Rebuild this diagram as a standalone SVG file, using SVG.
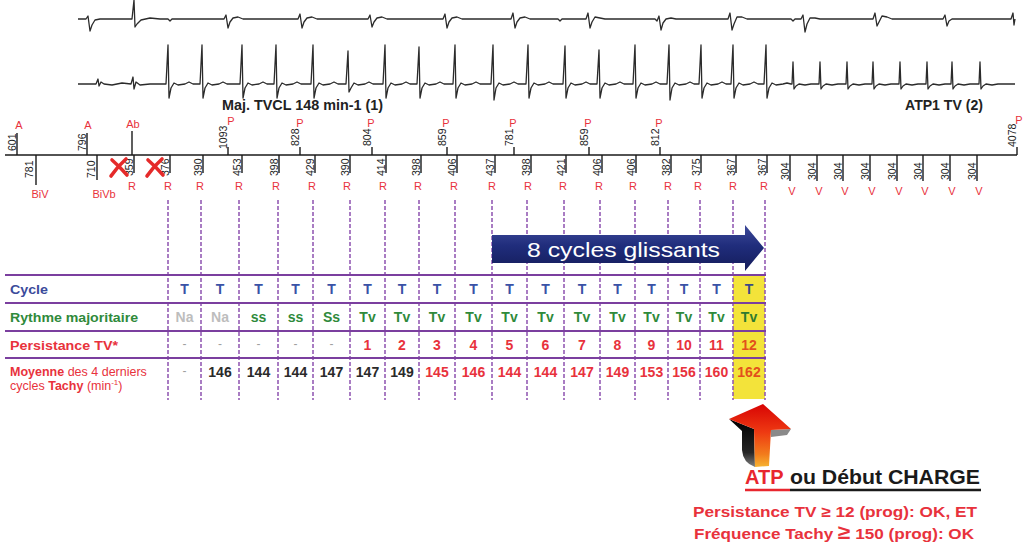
<svg xmlns="http://www.w3.org/2000/svg" width="1024" height="548" viewBox="0 0 1024 548">
<defs>
<style>
text{font-family:'Liberation Sans',Arial,sans-serif}
.ecg{fill:none;stroke:#2b2b2b;stroke-width:1.3;stroke-linejoin:round}
.tk{stroke:#1a1a1a;stroke-width:1.4}
.num{font-size:10.5px;fill:#222}
.mk{font-size:11px;fill:#e8323c;text-anchor:middle}
.hl{stroke:#7b3f9f;stroke-width:2}
.dl{stroke:#8d52b0;stroke-width:1.5;stroke-dasharray:4 2}
.c{font-size:14px;font-weight:bold;text-anchor:middle}
.t{fill:#3a52a6}.g{fill:#2f8a3b}.r{fill:#e8323c}.k{fill:#2a2a2a}.na{fill:#bdbdbd}.ds{fill:#a0a0a0;font-weight:normal;font-size:12px}.o{fill:#e2501c}
.lab{font-size:13.5px;font-weight:bold}
.xm{fill:none;stroke:#e52a2a;stroke-width:3.6;stroke-linecap:round}
</style>
<linearGradient id="gNavy" x1="0" y1="0" x2="0" y2="1">
<stop offset="0" stop-color="#3e4a9a"/><stop offset="0.45" stop-color="#202d7c"/><stop offset="1" stop-color="#141c5a"/>
</linearGradient>
<linearGradient id="gFire" x1="0" y1="0" x2="0" y2="1">
<stop offset="0" stop-color="#d80404"/><stop offset="0.45" stop-color="#ee3a12"/><stop offset="0.8" stop-color="#f27c1c"/><stop offset="1" stop-color="#f6b432"/>
</linearGradient>
<linearGradient id="gDark" x1="0" y1="0" x2="0" y2="1">
<stop offset="0" stop-color="#000"/><stop offset="0.7" stop-color="#262626"/><stop offset="1" stop-color="#808080"/>
</linearGradient>
</defs>
<rect width="1024" height="548" fill="#fff"/>

<g id="ecg">
<path class="ecg" d="M78,19 L86,19 L88,16 L90,31 L92,25 L95,20 L100,19 L132,19 L134,0 L135,27 L137,24 L141,20 L150,18 L160,19 L168,19 L170,21 L172,19 L224,19 L226,15 L228,28 L230,22 L233,18 L238,17 L243,19 L298,19 L300,14 L302,28 L304,22 L307,18 L312,17 L317,19 L368,19 L370,15 L372,27 L374,22 L377,18 L382,17 L387,19 L443,19 L445,14 L447,28 L449,22 L452,18 L457,17 L462,19 L511,19 L513,13 L515,28 L517,22 L520,18 L525,17 L530,19 L558,19 L560,21 L562,19 L586,19 L588,13 L590,28 L592,22 L595,17 L600,18 L605,19 L655,19 L657,21 L659,16 L661,30 L663,23 L666,19 L671,18 L676,19 L728,19 L730,13 L732,30 L734,24 L737,17 L742,17 L747,19 L791,19 L793,21 L795,19 L801,19 L803,15 L805,32 L807,24 L810,18 L815,18 L820,19 L873,19 L875,13 L877,26 L879,22 L882,16 L887,17 L892,19 L943,19 L945,15 L947,26 L949,21 L952,19 L957,19 L1011,19 L1013,13 L1014,25 L1015,19"/>
<path class="ecg" d="M78,84 L96,84 L98,79 L99,86 L101,82 L104,84 L112,85 L122,83 L131,84 L133,77 L134,89 L136,82 L140,85 L150,84
L166,84 L168,45 L169,98 L171,88 L174,83 L178,85 L185,84 L189,82 L193,84 L197,84
L200,84 L202,45 L203,98 L205,88 L208,83 L212,85 L219,84 L223,82 L227,84 L231,84
L240,84 L242,45 L243,98 L245,88 L248,83 L252,85 L259,84 L263,82 L267,84 L271,84
L274,84 L276,45 L277,98 L279,88 L282,83 L286,85 L293,84 L297,82 L301,84 L305,84
L311,84 L313,45 L314,98 L316,88 L319,83 L323,85 L330,84 L334,82 L338,84 L342,84
L346,84 L348,51 L349,92 L351,88 L354,83 L358,85 L365,84 L369,82 L373,84 L377,84
L383,84 L385,45 L386,98 L388,88 L391,83 L395,85 L402,84 L406,82 L410,84 L414,84
L417,84 L419,47 L420,98 L422,88 L425,83 L429,85 L436,84 L440,82 L444,84 L448,84
L453,84 L455,45 L456,98 L458,88 L461,83 L465,85 L472,84 L476,82 L480,84 L484,84
L491,84 L493,45 L494,100 L496,88 L499,83 L503,85 L510,84 L514,82 L518,84 L522,84
L526,84 L528,45 L529,98 L531,88 L534,83 L538,85 L545,84 L549,82 L553,84 L557,84
L563,84 L565,46 L566,98 L568,88 L571,83 L575,85 L582,84 L586,82 L590,84 L594,84
L597,84 L599,50 L600,98 L602,88 L605,83 L609,85 L616,84 L620,82 L624,84 L628,84
L633,84 L635,45 L636,98 L638,88 L641,83 L645,85 L652,84 L656,82 L660,84 L664,84
L667,84 L669,45 L670,100 L672,88 L675,83 L679,85 L686,84 L690,82 L694,84 L698,84
L699,84 L701,45 L702,98 L704,88 L707,83 L711,85 L718,84 L722,82 L726,84 L730,84
L731,84 L733,45 L734,98 L736,88 L739,83 L743,85 L750,84 L754,82 L758,84 L762,84
L764,84 L766,45 L767,98 L769,88 L772,83 L776,85 L783,84 L787,83 L791,84
L792,84 L793,62 L794,89 L796,86 L799,84 L805,85 L811,84 L817,84
L819,84 L820,62 L821,89 L823,86 L826,84 L832,85 L838,84 L844,84
L846,84 L847,62 L848,89 L850,86 L853,84 L859,85 L865,84 L871,84
L872,84 L873,62 L874,89 L876,86 L879,84 L885,85 L891,84 L897,84
L899,84 L900,62 L901,89 L903,86 L906,84 L912,85 L918,84 L924,84
L926,84 L927,62 L928,89 L930,86 L933,84 L939,85 L945,84 L950,84
L951,84 L952,62 L953,89 L955,86 L958,84 L964,85 L970,84 L977,84
L979,84 L980,62 L981,89 L983,86 L986,84 L992,85 L998,84 L1004,84 L1015,84"/>
<text x="222" y="110" font-size="14" font-weight="bold" fill="#222" textLength="161" lengthAdjust="spacingAndGlyphs">Maj. TVCL 148 min-1 (1)</text>
<text x="905" y="110" font-size="14" font-weight="bold" fill="#222" textLength="78" lengthAdjust="spacingAndGlyphs">ATP1 TV (2)</text>
</g>

<g id="marker-channel">
<line class="tk" x1="5" y1="155" x2="1017" y2="155" stroke-width="1.6"/>
<line class="tk" x1="17" y1="133" x2="17" y2="155"/><text class="num" transform="translate(15.5,151) rotate(-90)">601</text><text class="mk" x="19" y="129">A</text>
<line class="tk" x1="87" y1="133" x2="87" y2="155"/><text class="num" transform="translate(85.5,151) rotate(-90)">796</text><text class="mk" x="88" y="129">A</text>
<line class="tk" x1="132" y1="131" x2="132" y2="155"/><text class="mk" x="133" y="128">Ab</text>
<line class="tk" x1="228" y1="147" x2="228" y2="155"/><text class="num" transform="translate(226.5,149) rotate(-90)">1093</text><text class="mk" x="231" y="125">P</text>
<line class="tk" x1="300" y1="147" x2="300" y2="155"/><text class="num" transform="translate(298.5,146) rotate(-90)">828</text><text class="mk" x="300" y="127">P</text>
<line class="tk" x1="372" y1="147" x2="372" y2="155"/><text class="num" transform="translate(370.5,146) rotate(-90)">804</text><text class="mk" x="371" y="127">P</text>
<line class="tk" x1="447" y1="147" x2="447" y2="155"/><text class="num" transform="translate(445.5,146) rotate(-90)">859</text><text class="mk" x="446" y="127">P</text>
<line class="tk" x1="514" y1="147" x2="514" y2="155"/><text class="num" transform="translate(512.5,146) rotate(-90)">781</text><text class="mk" x="513" y="127">P</text>
<line class="tk" x1="589" y1="147" x2="589" y2="155"/><text class="num" transform="translate(587.5,146) rotate(-90)">859</text><text class="mk" x="588" y="127">P</text>
<line class="tk" x1="660" y1="147" x2="660" y2="155"/><text class="num" transform="translate(658.5,146) rotate(-90)">812</text><text class="mk" x="659" y="127">P</text>
<line class="tk" x1="1017" y1="147" x2="1017" y2="155"/><text class="num" transform="translate(1015.5,147) rotate(-90)">4078</text><text class="mk" x="1019" y="124">P</text>
<line class="tk" x1="36" y1="155" x2="36" y2="185" stroke-width="2.6"/><text class="num" transform="translate(33,178) rotate(-90)">781</text><text class="mk" x="40" y="198">BiV</text>
<line class="tk" x1="97" y1="155" x2="97" y2="180"/><text class="num" transform="translate(94.5,178) rotate(-90)">710</text><text class="mk" x="104" y="198">BiVb</text>
<g id="r-markers">
<line class="tk" x1="134" y1="155" x2="134" y2="173"/><text class="num" transform="translate(133,176) rotate(-90)">359</text><text class="mk" x="132" y="190">R</text>
<line class="tk" x1="170" y1="155" x2="170" y2="173"/><text class="num" transform="translate(169,176) rotate(-90)">376</text><text class="mk" x="168" y="190">R</text>
<line class="tk" x1="203" y1="155" x2="203" y2="173"/><text class="num" transform="translate(202,176) rotate(-90)">390</text><text class="mk" x="200" y="190">R</text>
<line class="tk" x1="242" y1="155" x2="242" y2="173"/><text class="num" transform="translate(241,176) rotate(-90)">453</text><text class="mk" x="239" y="190">R</text>
<line class="tk" x1="279" y1="155" x2="279" y2="173"/><text class="num" transform="translate(278,176) rotate(-90)">398</text><text class="mk" x="276" y="190">R</text>
<line class="tk" x1="315" y1="155" x2="315" y2="173"/><text class="num" transform="translate(314,176) rotate(-90)">429</text><text class="mk" x="312" y="190">R</text>
<line class="tk" x1="350" y1="155" x2="350" y2="173"/><text class="num" transform="translate(349,176) rotate(-90)">390</text><text class="mk" x="347" y="190">R</text>
<line class="tk" x1="386" y1="155" x2="386" y2="173"/><text class="num" transform="translate(385,176) rotate(-90)">414</text><text class="mk" x="383" y="190">R</text>
<line class="tk" x1="421" y1="155" x2="421" y2="173"/><text class="num" transform="translate(420,176) rotate(-90)">398</text><text class="mk" x="418" y="190">R</text>
<line class="tk" x1="457" y1="155" x2="457" y2="173"/><text class="num" transform="translate(456,176) rotate(-90)">406</text><text class="mk" x="454" y="190">R</text>
<line class="tk" x1="495" y1="155" x2="495" y2="173"/><text class="num" transform="translate(494,176) rotate(-90)">437</text><text class="mk" x="492" y="190">R</text>
<line class="tk" x1="531" y1="155" x2="531" y2="173"/><text class="num" transform="translate(530,176) rotate(-90)">398</text><text class="mk" x="528" y="190">R</text>
<line class="tk" x1="566" y1="155" x2="566" y2="173"/><text class="num" transform="translate(565,176) rotate(-90)">421</text><text class="mk" x="563" y="190">R</text>
<line class="tk" x1="602" y1="155" x2="602" y2="173"/><text class="num" transform="translate(601,176) rotate(-90)">406</text><text class="mk" x="599" y="190">R</text>
<line class="tk" x1="636" y1="155" x2="636" y2="173"/><text class="num" transform="translate(635,176) rotate(-90)">406</text><text class="mk" x="633" y="190">R</text>
<line class="tk" x1="671" y1="155" x2="671" y2="173"/><text class="num" transform="translate(670,176) rotate(-90)">382</text><text class="mk" x="668" y="190">R</text>
<line class="tk" x1="701" y1="155" x2="701" y2="173"/><text class="num" transform="translate(700,176) rotate(-90)">375</text><text class="mk" x="698" y="190">R</text>
<line class="tk" x1="736" y1="155" x2="736" y2="173"/><text class="num" transform="translate(735,176) rotate(-90)">367</text><text class="mk" x="733" y="190">R</text>
<line class="tk" x1="767" y1="155" x2="767" y2="173"/><text class="num" transform="translate(766,176) rotate(-90)">367</text><text class="mk" x="764" y="190">R</text>
</g>
<g id="v-markers">
<line class="tk" x1="790" y1="155" x2="790" y2="181"/><text class="num" transform="translate(789,180) rotate(-90)">304</text><text class="mk" x="792" y="195">V</text>
<line class="tk" x1="817" y1="155" x2="817" y2="181"/><text class="num" transform="translate(816,180) rotate(-90)">304</text><text class="mk" x="819" y="195">V</text>
<line class="tk" x1="843" y1="155" x2="843" y2="181"/><text class="num" transform="translate(842,180) rotate(-90)">304</text><text class="mk" x="845" y="195">V</text>
<line class="tk" x1="870" y1="155" x2="870" y2="181"/><text class="num" transform="translate(869,180) rotate(-90)">304</text><text class="mk" x="872" y="195">V</text>
<line class="tk" x1="897" y1="155" x2="897" y2="181"/><text class="num" transform="translate(896,180) rotate(-90)">304</text><text class="mk" x="899" y="195">V</text>
<line class="tk" x1="923" y1="155" x2="923" y2="181"/><text class="num" transform="translate(922,180) rotate(-90)">304</text><text class="mk" x="925" y="195">V</text>
<line class="tk" x1="950" y1="155" x2="950" y2="181"/><text class="num" transform="translate(949,180) rotate(-90)">304</text><text class="mk" x="952" y="195">V</text>
<line class="tk" x1="977" y1="155" x2="977" y2="181"/><text class="num" transform="translate(976,180) rotate(-90)">304</text><text class="mk" x="979" y="195">V</text>
</g>
<g id="crosses">
<path class="xm" d="M112,160 Q119,166 127,175 M126,159 Q117,167 111,176"/>
<path class="xm" d="M148,160 Q155,166 163,175 M162,159 Q153,167 147,176"/>
</g>
</g>

<g id="table">
<rect x="733" y="275" width="32" height="124" fill="#f3e33a"/>
<g id="dashed-lines">
<line class="dl" x1="168" y1="200" x2="168" y2="400"/>
<line class="dl" x1="201" y1="200" x2="201" y2="400"/>
<line class="dl" x1="239" y1="200" x2="239" y2="400"/>
<line class="dl" x1="278" y1="200" x2="278" y2="400"/>
<line class="dl" x1="313" y1="200" x2="313" y2="400"/>
<line class="dl" x1="350" y1="200" x2="350" y2="400"/>
<line class="dl" x1="385" y1="200" x2="385" y2="400"/>
<line class="dl" x1="419" y1="200" x2="419" y2="400"/>
<line class="dl" x1="455" y1="200" x2="455" y2="400"/>
<line class="dl" x1="492" y1="200" x2="492" y2="400"/>
<line class="dl" x1="527" y1="200" x2="527" y2="400"/>
<line class="dl" x1="564" y1="200" x2="564" y2="400"/>
<line class="dl" x1="600" y1="200" x2="600" y2="400"/>
<line class="dl" x1="635" y1="200" x2="635" y2="400"/>
<line class="dl" x1="668" y1="200" x2="668" y2="400"/>
<line class="dl" x1="700" y1="200" x2="700" y2="400"/>
<line class="dl" x1="733" y1="200" x2="733" y2="400"/>
<line class="dl" x1="765" y1="200" x2="765" y2="400"/>
</g>
<line class="hl" x1="5" y1="275" x2="766" y2="275"/>
<line class="hl" x1="5" y1="303" x2="766" y2="303"/>
<line class="hl" x1="5" y1="331" x2="766" y2="331"/>
<line class="hl" x1="5" y1="358" x2="766" y2="358"/>

<g id="row-labels">
<text class="lab" x="10" y="294" fill="#3b4b9b" textLength="38" lengthAdjust="spacingAndGlyphs">Cycle</text>
<text class="lab" x="10" y="322" fill="#2f8a3b" textLength="128" lengthAdjust="spacingAndGlyphs">Rythme majoritaire</text>
<text class="lab" x="10" y="350" fill="#e8323c" textLength="108" lengthAdjust="spacingAndGlyphs">Persistance TV*</text>
<text x="10" y="376" font-size="12.5" fill="#e8323c"><tspan font-weight="bold">Moyenne</tspan> des 4 derniers</text>
<text x="10" y="390" font-size="12.5" fill="#e8323c">cycles <tspan font-weight="bold">Tachy</tspan> (min<tspan font-size="8" dy="-5">-1</tspan><tspan dy="5">)</tspan></text>
</g>

<g id="row-cycle">
<text class="c t" x="184.5" y="294">T</text><text class="c t" x="220" y="294">T</text><text class="c t" x="258.5" y="294">T</text><text class="c t" x="295.5" y="294">T</text><text class="c t" x="331.5" y="294">T</text><text class="c t" x="367.5" y="294">T</text><text class="c t" x="402" y="294">T</text><text class="c t" x="437" y="294">T</text><text class="c t" x="473.5" y="294">T</text><text class="c t" x="509.5" y="294">T</text><text class="c t" x="545.5" y="294">T</text><text class="c t" x="582" y="294">T</text><text class="c t" x="617.5" y="294">T</text><text class="c t" x="651.5" y="294">T</text><text class="c t" x="684" y="294">T</text><text class="c t" x="716.5" y="294">T</text><text class="c" x="749" y="294" fill="#3b4a86">T</text>
</g>
<g id="row-rythme">
<text class="c na" x="184.5" y="322">Na</text><text class="c na" x="220" y="322">Na</text><text class="c g" x="258.5" y="322">ss</text><text class="c g" x="295.5" y="322">ss</text><text class="c g" x="331.5" y="322">Ss</text><text class="c g" x="367.5" y="322">Tv</text><text class="c g" x="402" y="322">Tv</text><text class="c g" x="437" y="322">Tv</text><text class="c g" x="473.5" y="322">Tv</text><text class="c g" x="509.5" y="322">Tv</text><text class="c g" x="545.5" y="322">Tv</text><text class="c g" x="582" y="322">Tv</text><text class="c g" x="617.5" y="322">Tv</text><text class="c g" x="651.5" y="322">Tv</text><text class="c g" x="684" y="322">Tv</text><text class="c g" x="716.5" y="322">Tv</text><text class="c" x="749" y="322" fill="#2e7a30">Tv</text>
</g>
<g id="row-persistance">
<text class="c ds" x="184.5" y="348">-</text><text class="c ds" x="220" y="348">-</text><text class="c ds" x="258.5" y="348">-</text><text class="c ds" x="295.5" y="348">-</text><text class="c ds" x="331.5" y="348">-</text>
<text class="c r" x="367.5" y="350">1</text><text class="c r" x="402" y="350">2</text><text class="c r" x="437" y="350">3</text><text class="c r" x="473.5" y="350">4</text><text class="c r" x="509.5" y="350">5</text><text class="c r" x="545.5" y="350">6</text><text class="c r" x="582" y="350">7</text><text class="c r" x="617.5" y="350">8</text><text class="c r" x="651.5" y="350">9</text><text class="c r" x="684" y="350">10</text><text class="c r" x="716.5" y="350">11</text><text class="c o" x="749" y="350">12</text>
</g>
<g id="row-moyenne">
<text class="c ds" x="184.5" y="375">-</text>
<text class="c k" x="220" y="377" font-size="13.5">146</text><text class="c k" x="258.5" y="377" font-size="13.5">144</text><text class="c k" x="295.5" y="377" font-size="13.5">144</text><text class="c k" x="331.5" y="377" font-size="13.5">147</text><text class="c k" x="367.5" y="377" font-size="13.5">147</text><text class="c k" x="402" y="377" font-size="13.5">149</text>
<text class="c r" x="437" y="377" font-size="14.5">145</text><text class="c r" x="473.5" y="377" font-size="14.5">146</text><text class="c r" x="509.5" y="377" font-size="14.5">144</text><text class="c r" x="545.5" y="377" font-size="14.5">144</text><text class="c r" x="582" y="377" font-size="14.5">147</text><text class="c r" x="617.5" y="377" font-size="14.5">149</text><text class="c r" x="651.5" y="377" font-size="14.5">153</text><text class="c r" x="684" y="377" font-size="14.5">156</text><text class="c r" x="716.5" y="377" font-size="14.5">160</text><text class="c o" x="749" y="377" font-size="14.5">162</text>
</g>
</g>

<g id="sliding-arrow">
<path d="M492,235 L745,235 L745,225 L764,248 L745,271 L745,263 L492,263 Z" fill="url(#gNavy)"/>
<text x="527" y="257" font-size="21" fill="#fff" textLength="193" lengthAdjust="spacingAndGlyphs">8 cycles glissants</text>
</g>

<g id="trigger-arrow">
<path d="M729,419 L754,429 L755,467 Q743,463 742,450 L742,431 Z" fill="url(#gDark)"/>
<path d="M791,429 L787,435 L771,437 L771,430 Z" fill="#8a8a8a"/>
<path d="M763,404 L791,429 L771,430 L769,466 L755,467 L754,429 L729,419 Z" fill="url(#gFire)"/>
</g>

<g id="conclusion">
<text x="745" y="484" font-size="20" font-weight="bold" fill="#e8262e">ATP</text>
<text x="790" y="484" font-size="20" font-weight="bold" fill="#1a1a1a" textLength="190" lengthAdjust="spacingAndGlyphs">ou Début CHARGE</text>
<line x1="745" y1="490" x2="790" y2="490" stroke="#e8262e" stroke-width="2.4"/>
<line x1="790" y1="490" x2="981" y2="490" stroke="#1a1a1a" stroke-width="2.4"/>
<text x="693" y="517" font-size="15" font-weight="bold" fill="#e8323c" textLength="284" lengthAdjust="spacingAndGlyphs">Persistance TV ≥ 12 (prog): OK,  ET</text>
<text x="694" y="539" font-size="15" font-weight="bold" fill="#e8323c" textLength="280" lengthAdjust="spacingAndGlyphs">Fréquence Tachy <tspan font-size="20">≥</tspan> 150 (prog): OK</text>
</g>
</svg>
